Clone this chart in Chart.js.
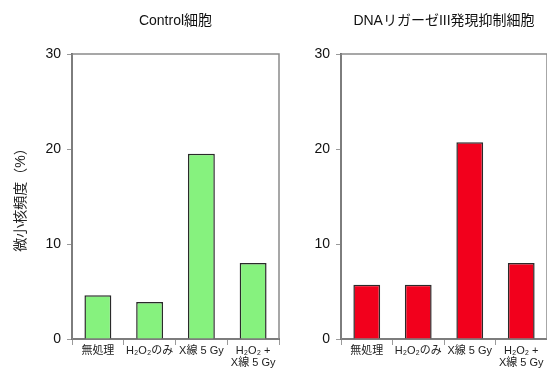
<!DOCTYPE html>
<html>
<head>
<meta charset="utf-8">
<script src="https://cdn.jsdelivr.net/npm/chart.js@4.4.1/dist/chart.umd.min.js"></script>
<style>
  html, body { margin: 0; padding: 0; background: #fff; overflow: hidden; }
  #wrapL { position: absolute; left: 0; top: 0; width: 290px; height: 369px; }
  #wrapR { position: absolute; left: 290px; top: 0; width: 257px; height: 369px; }
</style>
</head>
<body>
<div id="wrapL"><canvas id="chartL" width="290" height="369"></canvas></div>
<div id="wrapR"><canvas id="chartR" width="257" height="369"></canvas></div>
<script>
// data
const categories = ['無処理', 'H₂O₂のみ', 'X線 5 Gy', ['H₂O₂ +', 'X線 5 Gy']];
const controlValues = [4.6, 3.9, 19.5, 8.0];
const ligaseValues = [5.7, 5.7, 20.7, 8.0];
const yTicks = [0, 10, 20, 30];

const FONT = "'Liberation Sans', Arial, 'Noto Sans CJK JP', sans-serif";

// box around the plot area
const framePlugin = {
    id: 'frame',
    beforeDatasetsDraw(chart) {
        const a = chart.chartArea;
        const ctx = chart.ctx;
        ctx.save();
        ctx.strokeStyle = '#8a8a8a';
        ctx.lineWidth = 1.5;
        ctx.strokeRect(a.left, a.top, a.right - a.left, a.bottom - a.top);
        ctx.restore();
    }
};

function makeChart(id, title, values, fill, axisWidth, showYTitle, padRight) {
    const ctx = document.getElementById(id).getContext('2d');
    return new Chart(ctx, {
        type: 'bar',
        data: {
            labels: categories,
            datasets: [{
                data: values,
                backgroundColor: fill,
                borderColor: '#2a2a2a',
                borderWidth: 1.5,
                barPercentage: 0.52,
                categoryPercentage: 1
            }]
        },
        options: {
            responsive: false,
            animation: false,
            layout: { padding: { left: 0, right: padRight, top: 0, bottom: 0 } },
            plugins: {
                legend: { display: false },
                tooltip: { enabled: false },
                title: {
                    display: true,
                    text: title,
                    fullSize: false,
                    color: '#111',
                    font: { family: FONT, size: 14, weight: 'normal' },
                    padding: { top: 12.6, bottom: 24.6 }
                }
            },
            scales: {
                x: {
                    grid: {
                        offset: true,
                        drawOnChartArea: false,
                        drawTicks: true,
                        tickLength: 6,
                        color: '#9a9a9a'
                    },
                    border: { color: '#555', width: 2 },
                    ticks: {
                        color: '#222',
                        padding: 0,
                        maxRotation: 0,
                        autoSkip: false,
                        font: { family: FONT, size: 11, lineHeight: 1.1 }
                    },
                    afterFit: s => { s.height = 30; }
                },
                y: {
                    min: 0,
                    max: 30,
                    afterBuildTicks: s => { s.ticks = yTicks.map(v => ({ value: v })); },
                    grid: {
                        drawOnChartArea: false,
                        drawTicks: true,
                        tickLength: 5,
                        color: '#9a9a9a'
                    },
                    border: { color: '#555', width: 2 },
                    ticks: {
                        color: '#111',
                        padding: 6,
                        font: { family: FONT, size: 14 }
                    },
                    title: {
                        display: showYTitle,
                        text: '微小核頻度（%）',
                        color: '#222',
                        font: { family: FONT, size: 14 },
                        padding: { top: 12.6, bottom: 0 }
                    },
                    afterFit: s => { s.width = axisWidth; }
                }
            }
        },
        plugins: [framePlugin]
    });
}

makeChart('chartL', 'Control細胞', controlValues, '#86f27e', 72, true, 11);
makeChart('chartR', 'DNAリガーゼIII発現抑制細胞', ligaseValues, '#f2001c', 51, false, 0);
</script>
</body>
</html>
